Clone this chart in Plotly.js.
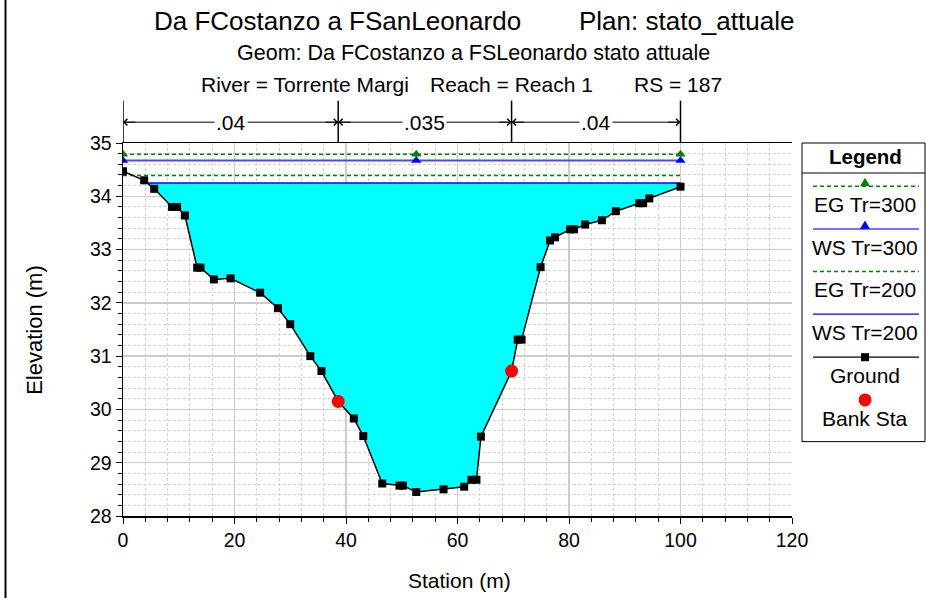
<!DOCTYPE html>
<html>
<head>
<meta charset="utf-8">
<script src="https://cdn.plot.ly/plotly-3.0.1.min.js"></script>
<style>html,body{margin:0;padding:0;background:#fff;}#chart{width:926px;height:598px;}</style>
</head>
<body>
<div id="chart"></div>
<script>
// ---- data ----
const station = [0, 3.8, 5.6, 8.8, 9.7, 11.1, 13.3, 13.9, 16.3, 19.3, 24.6, 27.8, 30.0, 33.6, 35.6, 38.6, 41.4, 43.1, 46.5, 49.6, 50.2, 52.6, 57.5, 61.2, 62.5, 63.4, 64.2, 69.7, 70.8, 71.5, 74.9, 76.6, 77.5, 80.2, 80.9, 82.9, 85.9, 88.4, 92.6, 93.3, 94.4, 100];
const elevation = [34.47, 34.30, 34.14, 33.80, 33.80, 33.64, 32.66, 32.66, 32.44, 32.46, 32.19, 31.90, 31.60, 31.00, 30.72, 30.15, 29.83, 29.50, 28.61, 28.57, 28.57, 28.45, 28.50, 28.55, 28.68, 28.68, 29.49, 30.72, 31.31, 31.31, 32.67, 33.17, 33.23, 33.38, 33.38, 33.47, 33.55, 33.72, 33.87, 33.87, 33.96, 34.18];
const bankSta = [38.6, 69.7];
const bankElev = [30.15, 30.72];
const egTr300 = 34.79;
const wsTr300 = 34.67;
const egTr200 = 34.39;
const wsTr200 = 34.25;
const profileMarkX = [0, 52.6, 100];
const nBreaks = [0, 38.6, 69.7, 100];
const nValues = ['.04', '.035', '.04'];
const legendNames = ['EG Tr=300', 'WS Tr=300', 'EG Tr=200', 'WS Tr=200', 'Ground', 'Bank Sta'];

// ---- water polygon (clip ground below WS Tr=200) ----
const polyX = [], polyY = [];
let wsLeft = null, wsRight = null;
for (let i = 0; i < station.length; i++) {
  const below = elevation[i] <= wsTr200;
  if (i > 0) {
    const pb = elevation[i-1] <= wsTr200;
    if (pb !== below) {
      const t = (wsTr200 - elevation[i-1]) / (elevation[i] - elevation[i-1]);
      const xi = station[i-1] + t * (station[i] - station[i-1]);
      polyX.push(xi); polyY.push(wsTr200);
      if (wsLeft === null) wsLeft = xi; else wsRight = xi;
    }
  }
  if (below) { polyX.push(station[i]); polyY.push(elevation[i]); }
}
if (elevation[elevation.length-1] <= wsTr200) {
  wsRight = station[station.length-1];
  polyX.push(wsRight); polyY.push(wsTr200);
}
if (wsLeft === null) wsLeft = station[0];
polyX.push(wsLeft); polyY.push(wsTr200);

const xEnds = [station[0], station[station.length-1]];
const GREEN = '#008000';
const EGDASH = '4px,3px';

const traces = [
  {x: polyX, y: polyY, mode: 'lines', fill: 'toself', fillcolor: '#00ffff', line: {width: 0}, hoverinfo: 'skip', showlegend: false},
  {x: [wsLeft, wsRight], y: [wsTr200, wsTr200], mode: 'lines', line: {color: '#0000ff', width: 1.5}, name: legendNames[3]},
  {x: xEnds, y: [egTr200, egTr200], mode: 'lines', line: {color: GREEN, width: 1.5, dash: EGDASH}, name: legendNames[2]},
  {x: profileMarkX, y: profileMarkX.map(() => wsTr300), mode: 'lines+markers', line: {color: '#4646ff', width: 2}, marker: {symbol: 'triangle-up', size: 9, color: '#0000ff'}, name: legendNames[1]},
  {x: profileMarkX, y: profileMarkX.map(() => egTr300), mode: 'lines+markers', line: {color: GREEN, width: 1.5, dash: EGDASH}, marker: {symbol: 'triangle-up', size: 9, color: GREEN}, name: legendNames[0]},
  {x: station, y: elevation, mode: 'lines+markers', line: {color: '#000', width: 1.5}, marker: {symbol: 'square', size: 8, color: '#000'}, name: legendNames[4]},
  {x: bankSta, y: bankElev, mode: 'markers', marker: {symbol: 'circle', size: 13, color: '#ff0000'}, name: legendNames[5]}
];

// ---- layout helpers (pixel -> paper) ----
const L = 123, R = 792, T = 143.3, B = 516;
const px = p => (p - L) / (R - L);
const py = p => (B - p) / (B - T);
const FONT = 'Liberation Sans, Arial, Helvetica, sans-serif';

const shapes = [];
const annotations = [];
const tf = (s) => ({family: FONT, size: s, color: '#000'});
const txt = (x, y, text, size, extra) => Object.assign({xref: 'paper', yref: 'paper', x: px(x), y: py(y), text: text, showarrow: false, font: tf(size), xanchor: 'center', yanchor: 'middle'}, extra || {});

// titles
annotations.push(txt(337, 21, 'Da FCostanzo a FSanLeonardo', 26));
annotations.push(txt(686, 21, 'Plan: stato_attuale', 26));
annotations.push(txt(473.5, 53, 'Geom: Da FCostanzo a FSLeonardo stato attuale', 21.5));
annotations.push(txt(304.5, 85, 'River = Torrente Margi', 21));
annotations.push(txt(511, 85, 'Reach = Reach 1', 21));
annotations.push(txt(678, 85, 'RS = 187', 21));

// axis titles
annotations.push(txt(459, 580, 'Station (m)', 21));
annotations.push(txt(35, 330, 'Elevation (m)', 22, {textangle: -90}));

// Manning n bar
const arrowY = py(122.5);
nBreaks.forEach(b => shapes.push({type: 'line', xref: 'x', yref: 'paper', x0: b, x1: b, y0: 1, y1: py(101), line: {color: '#000', width: 1.5}}));
for (let i = 0; i < nValues.length; i++) {
  const a = nBreaks[i], b = nBreaks[i+1];
  shapes.push({type: 'line', xref: 'x', yref: 'paper', x0: a, x1: b, y0: arrowY, y1: arrowY, line: {color: '#000', width: 1}});
  annotations.push({xref: 'x', yref: 'paper', x: (a + b) / 2, y: arrowY, text: nValues[i], showarrow: false, font: tf(21), bgcolor: '#fff', borderpad: 1, xanchor: 'center', yanchor: 'middle'});
  annotations.push({xref: 'x', yref: 'paper', x: a, y: arrowY, ax: 14, ay: 0, text: '', showarrow: true, arrowhead: 4, arrowsize: 1.3, arrowwidth: 1, arrowcolor: '#000'});
  annotations.push({xref: 'x', yref: 'paper', x: b, y: arrowY, ax: -14, ay: 0, text: '', showarrow: true, arrowhead: 4, arrowsize: 1.3, arrowwidth: 1, arrowcolor: '#000'});
}

// left frame line
shapes.push({type: 'line', xref: 'paper', yref: 'paper', x0: px(5.5), x1: px(5.5), y0: py(0), y1: py(598), line: {color: '#000', width: 2}});

// custom legend box
const lx0 = 802, lx1 = 925, lcx = 865;
shapes.push({type: 'rect', xref: 'paper', yref: 'paper', x0: px(lx0), x1: px(lx1), y0: py(441.7), y1: py(143.3), line: {color: '#000', width: 1}, fillcolor: 'rgba(0,0,0,0)'});
shapes.push({type: 'line', xref: 'paper', yref: 'paper', x0: px(lx0), x1: px(lx1), y0: py(173.3), y1: py(173.3), line: {color: '#000', width: 1}});
annotations.push(txt(lcx, 157, '<b>Legend</b>', 20.5));
const legLines = [
  {y: 186.5, color: GREEN, dash: EGDASH, w: 1.5, mark: 'tri', mcol: GREEN},
  {y: 229.3, color: '#4646ff', dash: 'solid', w: 1.5, mark: 'tri', mcol: '#0000ff'},
  {y: 271.7, color: GREEN, dash: EGDASH, w: 1.5, mark: null},
  {y: 314.3, color: '#0000ff', dash: 'solid', w: 1.2, mark: null},
  {y: 357.3, color: '#000', dash: 'solid', w: 1.2, mark: 'sq', mcol: '#000'}
];
const legTextY = [205, 247.3, 290, 333, 376, 419];
legLines.forEach(l => {
  shapes.push({type: 'line', xref: 'paper', yref: 'paper', x0: px(813), x1: px(919), y0: py(l.y), y1: py(l.y), line: {color: l.color, width: l.w, dash: l.dash}});
  if (l.mark === 'tri') {
    shapes.push({type: 'path', xref: 'paper', yref: 'paper', xsizemode: 'pixel', ysizemode: 'pixel', xanchor: px(lcx), yanchor: py(l.y), path: 'M-5,0 L5,0 L0,8.5 Z', fillcolor: l.mcol, line: {width: 0}});
  } else if (l.mark === 'sq') {
    shapes.push({type: 'rect', xref: 'paper', yref: 'paper', xsizemode: 'pixel', ysizemode: 'pixel', xanchor: px(lcx), yanchor: py(l.y), x0: -4, x1: 4, y0: -4, y1: 4, fillcolor: l.mcol, line: {width: 0}});
  }
});
shapes.push({type: 'circle', xref: 'paper', yref: 'paper', xsizemode: 'pixel', ysizemode: 'pixel', xanchor: px(lcx), yanchor: py(400), x0: -6.5, x1: 6.5, y0: -6.5, y1: 6.5, fillcolor: '#ff0000', line: {width: 0}});
legendNames.forEach((n, i) => annotations.push(txt(lcx, legTextY[i], n, 21)));

const layout = {
  width: 926, height: 598,
  margin: {l: L, r: 926 - R, t: T, b: 598 - B, pad: 0},
  paper_bgcolor: '#fff', plot_bgcolor: '#fff',
  showlegend: false,
  font: {family: FONT, size: 19.5, color: '#000'},
  xaxis: {
    range: [0, 120], dtick: 20, tick0: 0, ticks: 'outside', ticklen: 6, tickcolor: '#000', tickwidth: 1,
    showline: true, linecolor: '#000', linewidth: 1.5, mirror: true, zeroline: false,
    showgrid: true, gridcolor: '#cccccc', gridwidth: 1.5,
    tickfont: {family: FONT, size: 19.5},
    minor: {dtick: 4, ticks: 'outside', ticklen: 4, tickcolor: '#000', showgrid: true, gridcolor: '#d4d4d4', griddash: '3px,2px', gridwidth: 1}
  },
  yaxis: {
    range: [28, 35], dtick: 1, tick0: 28, ticks: 'outside', ticklen: 6, tickcolor: '#000', tickwidth: 1,
    showline: true, linecolor: '#000', linewidth: 1.5, mirror: false, zeroline: false,
    showgrid: true, gridcolor: '#cccccc', gridwidth: 1.5,
    tickfont: {family: FONT, size: 19.5},
    minor: {dtick: 0.2, ticks: 'outside', ticklen: 4, tickcolor: '#000', showgrid: true, gridcolor: '#d4d4d4', griddash: '3px,2px', gridwidth: 1}
  },
  shapes: shapes,
  annotations: annotations
};

Plotly.newPlot('chart', traces, layout, {staticPlot: true, displayModeBar: false});
</script>
</body>
</html>
